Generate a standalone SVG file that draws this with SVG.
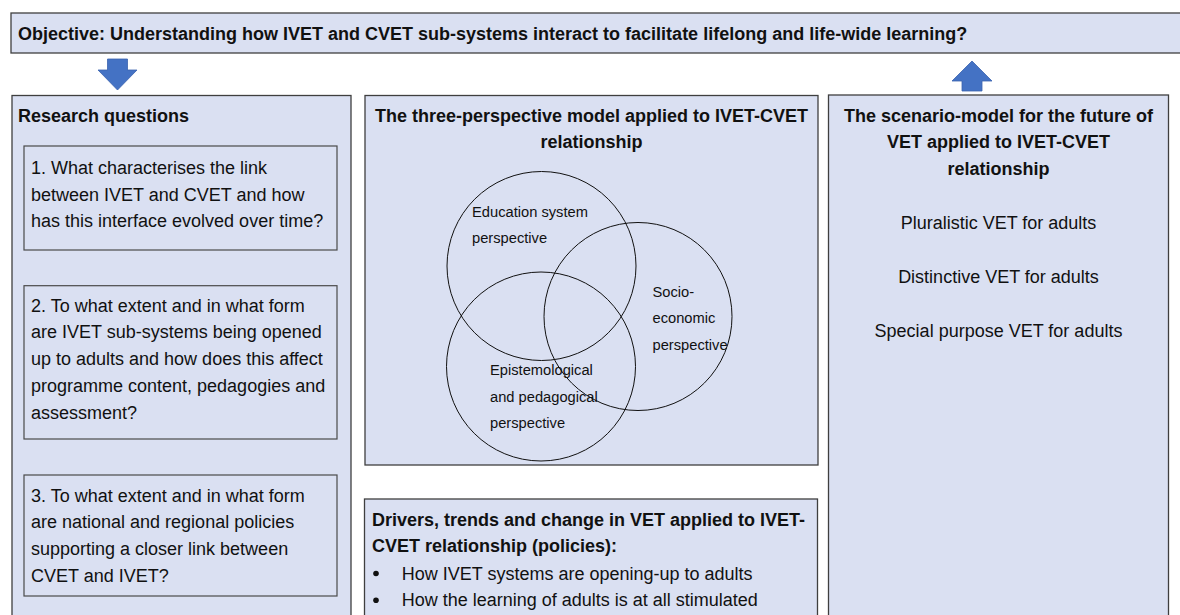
<svg xmlns="http://www.w3.org/2000/svg" width="1180" height="615" viewBox="0 0 1180 615">
<style>
.box{fill:#DAE0F2;stroke:#3F3F3F;stroke-width:1.3}
.qbox{fill:#DAE0F2;stroke:#4A4A4A;stroke-width:1.2}
.circ{fill:none;stroke:#111;stroke-width:1}
.t{font-family:"Liberation Sans",Arial,sans-serif;font-size:18px;fill:#111}
.b{font-weight:bold}
.s{font-family:"Liberation Sans",Arial,sans-serif;font-size:14.7px;fill:#111}
.mid{text-anchor:middle}
.arrow{fill:#4472C4;stroke:#3A62AE;stroke-width:0.8}
</style>
<rect width="1180" height="615" fill="#FFFFFF"/>

<g id="objective">
<rect class="box" x="11" y="13" width="1190" height="40"/>
<text class="t b" x="18" y="40">Objective: Understanding how IVET and CVET sub-systems interact to facilitate lifelong and life-wide learning?</text>
</g>

<g id="connectors">
<polygon class="arrow" points="107.5,59 127.5,59 127.5,70 137,70 117.5,90 98,70 107.5,70"/>
<polygon class="arrow" points="972,61 992,81 982,81 982,91 962,91 962,81 952,81"/>
</g>

<g id="research-questions">
<rect class="box" x="12" y="95.5" width="339" height="540"/>
<text class="t b" x="18" y="121.5">Research questions</text>
</g>

<g id="q1">
<rect class="qbox" x="24" y="146" width="313" height="104"/>
<text class="t" x="31" y="174">1. What characterises the link</text>
<text class="t" x="31" y="200.7">between IVET and CVET and how</text>
<text class="t" x="31" y="227.4">has this interface evolved over time?</text>
</g>

<g id="q2">
<rect class="qbox" x="24" y="285.7" width="313" height="153.3"/>
<text class="t" x="31" y="311.7">2. To what extent and in what form</text>
<text class="t" x="31" y="338.4">are IVET sub-systems being opened</text>
<text class="t" x="31" y="365.1">up to adults and how does this affect</text>
<text class="t" x="31" y="391.8">programme content, pedagogies and</text>
<text class="t" x="31" y="418.5">assessment?</text>
</g>

<g id="q3">
<rect class="qbox" x="24" y="475" width="313" height="121"/>
<text class="t" x="31" y="501.7">3. To what extent and in what form</text>
<text class="t" x="31" y="528.4">are national and regional policies</text>
<text class="t" x="31" y="555.1">supporting a closer link between</text>
<text class="t" x="31" y="581.8">CVET and IVET?</text>
</g>

<g id="three-perspective-model">
<rect class="box" x="365" y="95.5" width="453" height="369.5"/>
<text class="t b mid" x="591.5" y="121.7">The three-perspective model applied to IVET-CVET</text>
<text class="t b mid" x="591.5" y="148.4">relationship</text>
</g>

<g id="education-system-perspective">
<circle class="circ" cx="541.5" cy="266" r="94.5"/>
<text class="s" x="472" y="216.5">Education system</text>
<text class="s" x="472" y="242.5">perspective</text>
</g>

<g id="socio-economic-perspective">
<circle class="circ" cx="638" cy="316.5" r="94"/>
<text class="s" x="652.5" y="296.7">Socio-</text>
<text class="s" x="652.5" y="323.3">economic</text>
<text class="s" x="652.5" y="349.5">perspective</text>
</g>

<g id="epistemological-perspective">
<circle class="circ" cx="541" cy="366.5" r="94.5"/>
<text class="s" x="490" y="375">Epistemological</text>
<text class="s" x="490" y="401.7">and pedagogical</text>
<text class="s" x="490" y="428.3">perspective</text>
</g>

<g id="drivers">
<rect class="box" x="364.5" y="499" width="453" height="200"/>
<text class="t b" x="372" y="525.7">Drivers, trends and change in VET applied to IVET-</text>
<text class="t b" x="372" y="552.4">CVET relationship (policies):</text>
<circle cx="376" cy="573.5" r="2.8" fill="#111"/>
<text class="t" x="401.7" y="579.5">How IVET systems are opening-up to adults</text>
<circle cx="376" cy="600.2" r="2.8" fill="#111"/>
<text class="t" x="401.7" y="606.2">How the learning of adults is at all stimulated</text>
</g>

<g id="scenario-model">
<rect class="box" x="828.5" y="95" width="340" height="540"/>
<text class="t b mid" x="998.5" y="121.7">The scenario-model for the future of</text>
<text class="t b mid" x="998.5" y="148.4">VET applied to IVET-CVET</text>
<text class="t b mid" x="998.5" y="175.1">relationship</text>
<text class="t mid" x="998.5" y="229.3">Pluralistic VET for adults</text>
<text class="t mid" x="998.5" y="282.8">Distinctive VET for adults</text>
<text class="t mid" x="998.5" y="336.5">Special purpose VET for adults</text>
</g>
</svg>
